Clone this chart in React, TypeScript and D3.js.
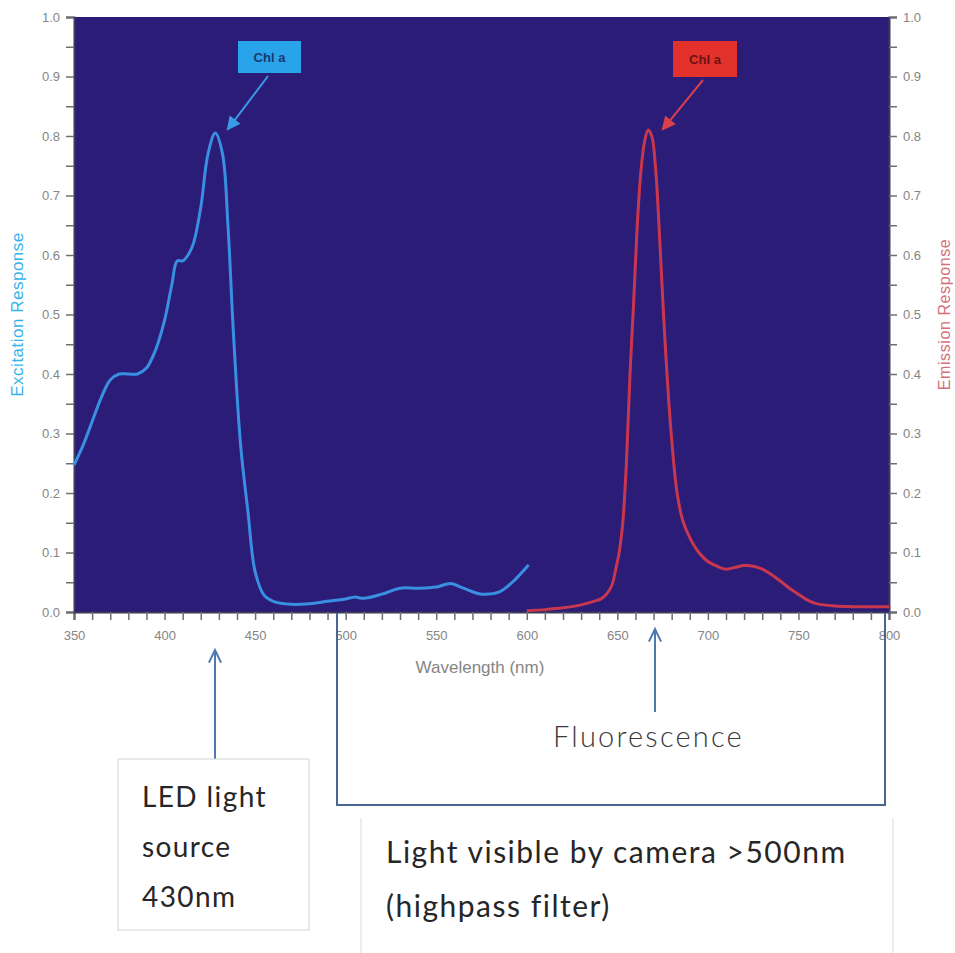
import { useEffect, useRef } from 'react';
import * as d3 from 'd3';

// excitation (blue) spectrum
const excWl = [350, 355, 360, 365, 370, 375, 380, 385, 390, 395, 400, 404, 407, 410, 413, 416, 420, 424, 428, 432, 435, 438, 442, 446, 450, 455, 460, 470, 480, 490, 500, 505, 510, 520, 530, 540, 550, 558, 565, 575, 585, 592, 601];
const excVal = [0.247, 0.28, 0.32, 0.36, 0.39, 0.40, 0.40, 0.40, 0.41, 0.44, 0.49, 0.55, 0.59, 0.59, 0.60, 0.62, 0.68, 0.77, 0.805, 0.77, 0.65, 0.47, 0.28, 0.17, 0.068, 0.028, 0.018, 0.013, 0.014, 0.018, 0.022, 0.025, 0.023, 0.03, 0.04, 0.04, 0.042, 0.048, 0.04, 0.03, 0.034, 0.05, 0.079];

// emission (red) spectrum
const emWl = [600, 610, 620, 630, 637, 641, 644, 647, 649, 651, 653, 655, 657, 659, 661, 663, 665, 667, 669, 671, 673, 675, 677, 680, 683, 686, 690, 695, 700, 705, 710, 715, 720, 725, 730, 735, 740, 745, 750, 755, 760, 770, 780, 790, 800];
const emVal = [0.002, 0.004, 0.007, 0.012, 0.018, 0.022, 0.03, 0.045, 0.07, 0.1, 0.15, 0.25, 0.4, 0.52, 0.65, 0.74, 0.79, 0.81, 0.80, 0.75, 0.65, 0.53, 0.42, 0.29, 0.2, 0.155, 0.125, 0.1, 0.085, 0.077, 0.072, 0.075, 0.078, 0.077, 0.072, 0.063, 0.052, 0.04, 0.03, 0.02, 0.014, 0.01, 0.009, 0.009, 0.009];

const xTicks = [350, 400, 450, 500, 550, 600, 650, 700, 750, 800];
const yTicks = [0, 0.1, 0.2, 0.3, 0.4, 0.5, 0.6, 0.7, 0.8, 0.9, 1.0];

const W = 955;
const H = 953;
const margin = { left: 74, right: 66, top: 17, bottom: 341 };

const App = () => {
  const svgRef = useRef<SVGSVGElement>(null);

  useEffect(() => {
    const svg = d3.select(svgRef.current);
    svg.selectAll('*').remove();

    const x = d3.scaleLinear().domain([350, 800]).range([margin.left, W - margin.right]);
    const y = d3.scaleLinear().domain([0, 1]).range([H - margin.bottom, margin.top]);
    const x0 = x.range()[0], x1 = x.range()[1];
    const y0 = y.range()[0], y1 = y.range()[1];

    svg.append('rect').attr('width', W).attr('height', H).attr('fill', '#ffffff');

    // plot background
    svg.append('rect')
      .attr('x', x0).attr('y', y1)
      .attr('width', x1 - x0).attr('height', y0 - y1)
      .attr('fill', '#2b1c78');

    const tickColor = '#6e6e6e';
    const labelFont = 'Liberation Sans, Arial, sans-serif';
    const fmt = (d: any) => (yTicks.some((t) => Math.abs(t - +d) < 1e-6) ? d3.format('.1f')(+d) : '');

    // x axis
    const xAxis = d3.axisBottom(x)
      .tickValues(d3.range(350, 801, 10))
      .tickSize(8)
      .tickFormat((d) => (xTicks.includes(+d) ? String(d) : ''));
    const gx = svg.append('g').attr('transform', `translate(0,${y0})`).call(xAxis);
    gx.select('.domain').attr('stroke', '#3a3a5a').attr('stroke-width', 2);
    gx.selectAll('line').attr('stroke', tickColor).attr('stroke-width', 1.5);
    gx.selectAll('text').attr('fill', '#858585').attr('font-size', 13).attr('font-family', labelFont).attr('dy', '1.3em');

    // left y axis
    const yAxisL = d3.axisLeft(y).tickValues(d3.range(0, 1.001, 0.05)).tickSize(8).tickPadding(6).tickFormat(fmt);
    const gl = svg.append('g').attr('transform', `translate(${x0},0)`).call(yAxisL);
    gl.select('.domain').attr('stroke', '#3a3a5a').attr('stroke-width', 2);
    gl.selectAll('line').attr('stroke', tickColor).attr('stroke-width', 1.5);
    gl.selectAll('text').attr('fill', '#858585').attr('font-size', 13).attr('font-family', labelFont);

    // right y axis
    const yAxisR = d3.axisRight(y).tickValues(d3.range(0, 1.001, 0.05)).tickSize(8).tickPadding(6).tickFormat(fmt);
    const gr = svg.append('g').attr('transform', `translate(${x1},0)`).call(yAxisR);
    gr.select('.domain').attr('stroke', '#3a3a5a').attr('stroke-width', 2);
    gr.selectAll('line').attr('stroke', tickColor).attr('stroke-width', 1.5);
    gr.selectAll('text').attr('fill', '#858585').attr('font-size', 13).attr('font-family', labelFont);

    // axis titles
    svg.append('text')
      .attr('transform', `translate(23,${(y0 + y1) / 2}) rotate(-90)`)
      .attr('text-anchor', 'middle')
      .attr('fill', '#34b4ea').attr('font-size', 17).attr('font-family', labelFont)
      .attr('letter-spacing', 0.5)
      .text('Excitation Response');
    svg.append('text')
      .attr('transform', `translate(950,${(y0 + y1) / 2}) rotate(-90)`)
      .attr('text-anchor', 'middle')
      .attr('fill', '#d4707c').attr('font-size', 16).attr('font-family', labelFont)
      .attr('letter-spacing', 0.6)
      .text('Emission Response');
    svg.append('text')
      .attr('x', 480).attr('y', 673)
      .attr('text-anchor', 'middle')
      .attr('fill', '#858585').attr('font-size', 17).attr('font-family', labelFont)
      .text('Wavelength (nm)');

    // curves
    const line = d3.line<[number, number]>()
      .x((d) => x(d[0]))
      .y((d) => y(d[1]))
      .curve(d3.curveCatmullRom.alpha(0.5));

    svg.append('path')
      .datum(excWl.map((w, i) => [w, excVal[i]] as [number, number]))
      .attr('d', line)
      .attr('fill', 'none')
      .attr('stroke', '#3990e2')
      .attr('stroke-width', 3);

    svg.append('path')
      .datum(emWl.map((w, i) => [w, emVal[i]] as [number, number]))
      .attr('d', line)
      .attr('fill', 'none')
      .attr('stroke', '#c9374f')
      .attr('stroke-width', 3);

    // arrows
    const arrow = (g: any, xs: number, ys: number, xe: number, ye: number, color: string, head: number, width: number, filled: boolean) => {
      const ang = Math.atan2(ye - ys, xe - xs);
      g.append('line')
        .attr('x1', xs).attr('y1', ys)
        .attr('x2', filled ? xe - Math.cos(ang) * head * 0.8 : xe)
        .attr('y2', filled ? ye - Math.sin(ang) * head * 0.8 : ye)
        .attr('stroke', color).attr('stroke-width', width);
      const a1 = ang + Math.PI - 0.45;
      const a2 = ang + Math.PI + 0.45;
      const p = [
        [xe + Math.cos(a1) * head, ye + Math.sin(a1) * head],
        [xe, ye],
        [xe + Math.cos(a2) * head, ye + Math.sin(a2) * head],
      ];
      g.append('path')
        .attr('d', `M${p[0][0]},${p[0][1]}L${p[1][0]},${p[1][1]}L${p[2][0]},${p[2][1]}` + (filled ? 'Z' : ''))
        .attr('fill', filled ? color : 'none')
        .attr('stroke', color)
        .attr('stroke-width', width)
        .attr('stroke-linejoin', 'miter');
    };

    // Chl a callouts
    const callout = (cx: number, bx: number, bw: number, by: number, bh: number, fill: string, txtCol: string, tipX: number, tipY: number, lineCol: string) => {
      const g = svg.append('g');
      g.append('rect').attr('x', bx).attr('y', by).attr('width', bw).attr('height', bh).attr('fill', fill);
      g.append('text')
        .attr('x', bx + bw / 2).attr('y', by + bh / 2 + 5)
        .attr('text-anchor', 'middle')
        .attr('fill', txtCol)
        .attr('font-size', 13).attr('font-weight', 'bold').attr('font-family', labelFont)
        .text('Chl a');
      arrow(g, cx, by + bh + 3, tipX, tipY, lineCol, 12, 2, true);
    };
    callout(268, 238, 63, 41, 32, '#29a3ea', '#1c3870', 228, 129, '#3a9ae6');
    callout(703, 673, 64, 41, 36, '#e3312c', '#6e1216', 663, 129, '#d8404a');

    // annotations below the chart
    const annCol = '#4e78b0';
    const anno = svg.append('g');
    arrow(anno, 215, 759, 215, 650, annCol, 14, 2, false);
    arrow(anno, 655, 712, 655, 629, annCol, 14, 2, false);

    // bracket for visible range
    anno.append('path')
      .attr('d', `M337,${y0 + 1}V805H885V${y0 + 1}`)
      .attr('fill', 'none')
      .attr('stroke', '#4b6593')
      .attr('stroke-width', 2);

    const textFont = 'Lato, Carlito, sans-serif';
    // LED box
    anno.append('rect')
      .attr('x', 118).attr('y', 759).attr('width', 191).attr('height', 171)
      .attr('fill', '#ffffff').attr('stroke', '#d4d4d4').attr('stroke-width', 1);
    const ledLines = ['LED light', 'source', '430nm'];
    anno.selectAll('text.led')
      .data(ledLines)
      .enter()
      .append('text')
      .attr('class', 'led')
      .attr('x', 142)
      .attr('y', (d, i) => 807 + i * 50)
      .attr('fill', '#262626')
      .attr('font-size', 28)
      .attr('letter-spacing', 1.4)
      .attr('font-family', textFont)
      .text((d) => d);

    anno.append('text')
      .attr('x', 553).attr('y', 747)
      .attr('fill', '#3a3a3a')
      .attr('font-size', 29)
      .attr('font-weight', 300)
      .attr('font-family', textFont)
      .attr('letter-spacing', 2.2)
      .text('Fluorescence');

    // camera box (open at the top and bottom edge of the picture)
    anno.append('path')
      .attr('d', 'M361,818V953M893,818V953')
      .attr('stroke', '#dadada').attr('stroke-width', 1).attr('fill', 'none');
    const camLines = ['Light visible by camera >500nm', '(highpass filter)'];
    anno.selectAll('text.cam')
      .data(camLines)
      .enter()
      .append('text')
      .attr('class', 'cam')
      .attr('x', 386)
      .attr('y', (d, i) => 863 + i * 54)
      .attr('fill', '#262626')
      .attr('font-size', 30)
      .attr('letter-spacing', 1.5)
      .attr('font-family', textFont)
      .text((d) => d);
  }, []);

  return (
    <div style={{ position: 'absolute', left: 0, top: 0 }}>
      <svg ref={svgRef} width={W} height={H} style={{ display: 'block' }}></svg>
    </div>
  );
};

export default App;
